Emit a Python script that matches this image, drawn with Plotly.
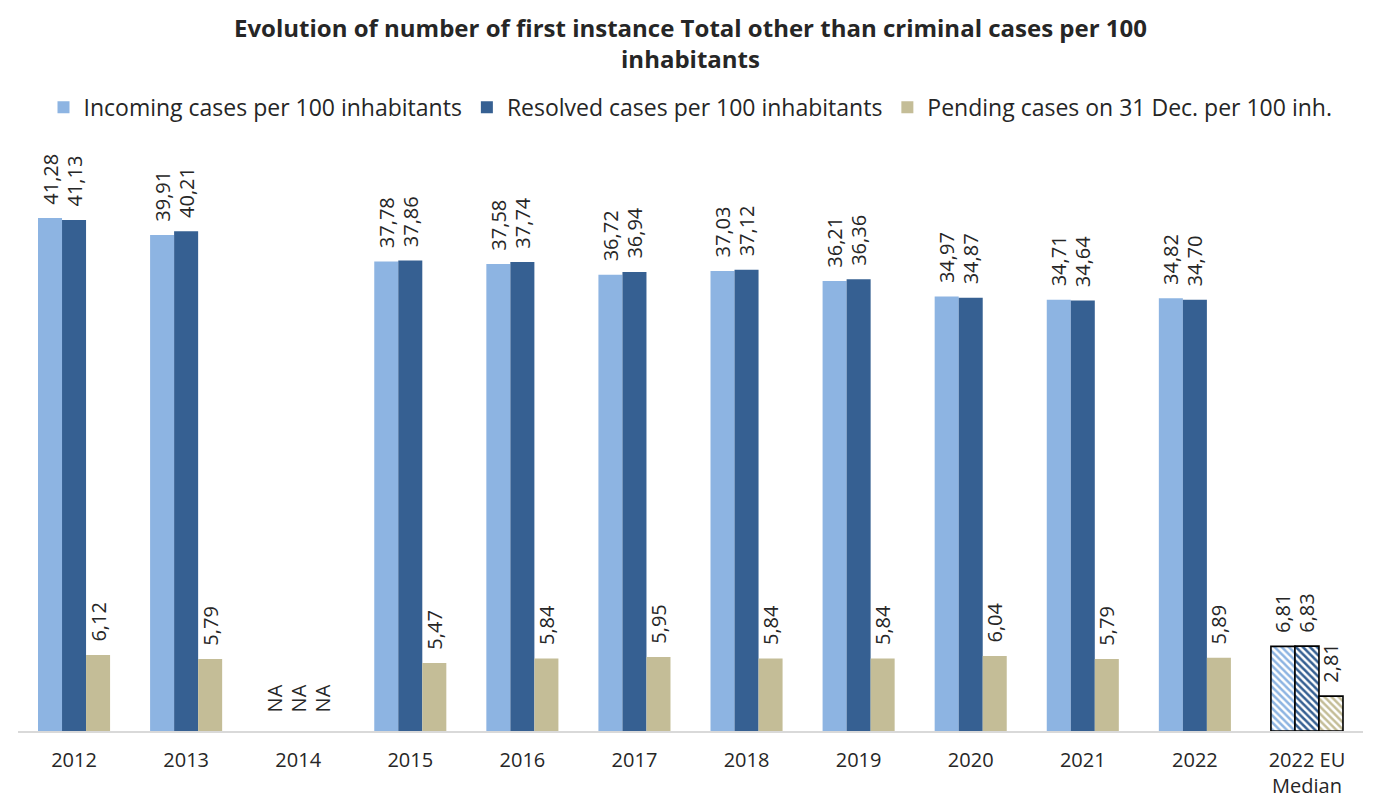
import plotly.graph_objects as go

categories = ["2012", "2013", "2014", "2015", "2016", "2017", "2018", "2019", "2020", "2021", "2022", "2022 EU<br>Median"]
incoming = [41.28, 39.91, None, 37.78, 37.58, 36.72, 37.03, 36.21, 34.97, 34.71, 34.82, 6.81]
resolved = [41.13, 40.21, None, 37.86, 37.74, 36.94, 37.12, 36.36, 34.87, 34.64, 34.70, 6.83]
pending = [6.12, 5.79, None, 5.47, 5.84, 5.95, 5.84, 5.84, 6.04, 5.79, 5.89, 2.81]

series_names = ["Incoming cases per 100 inhabitants", "Resolved cases per 100 inhabitants", "Pending cases on 31 Dec. per 100 inh."]
colors = ["#8DB4E2", "#366092", "#C4BD97"]

FONT = "Open Sans"
TXT = "#262626"

def fmt(v):
    return "\u00a0\u00a0\u00a0NA" if v is None else "\u00a0\u00a0" + f"{v:.2f}".replace(".", ",")

fig = go.Figure()
n = len(categories)
for name, vals, col in zip(series_names, [incoming, resolved, pending], colors):
    ys = [0 if v is None else v for v in vals]
    shapes = [""] * (n - 1) + ["\\"]
    lw = [0] * (n - 1) + [1.6]
    fig.add_trace(go.Bar(
        x=categories, y=ys, name=name,
        text=[fmt(v) for v in vals],
        textposition="outside", textangle=-90,
        constraintext="none",
        textfont=dict(family=FONT, size=20, color=TXT),
        cliponaxis=False,
        marker=dict(
            color=col,
            line=dict(color="black", width=lw),
            pattern=dict(shape=shapes, fgcolor=col, bgcolor="white", size=5, solidity=0.5, fillmode="replace"),
        ),
    ))

fig.update_layout(
    width=1373, height=801,
    paper_bgcolor="white", plot_bgcolor="white",
    barmode="group", bargap=0.357, bargroupgap=0,
    margin=dict(l=10, r=18, t=139, b=78, autoexpand=False),
    title=dict(
        text="<b>Evolution of number of first instance Total other than criminal cases per 100<br>inhabitants</b>",
        x=0.5, xanchor="center", xref="paper", yref="container", y=0.964, yanchor="middle",
        font=dict(family=FONT, size=24, color=TXT),
    ),
    legend=dict(
        orientation="h", x=0.5, xanchor="center", y=1.068, yanchor="middle",
        font=dict(family=FONT, size=23, color=TXT),
        traceorder="normal",
    ),
    showlegend=True,
)
fig.update_xaxes(
    showline=True, linecolor="#D9D9D9", linewidth=1.5,
    tickfont=dict(family=FONT, size=20, color=TXT),
    ticks="", showgrid=False, automargin=False, ticklabelstandoff=10,
)
fig.update_yaxes(range=[0, 47], visible=False, showgrid=False, automargin=False)

fig.write_html("out.html")
